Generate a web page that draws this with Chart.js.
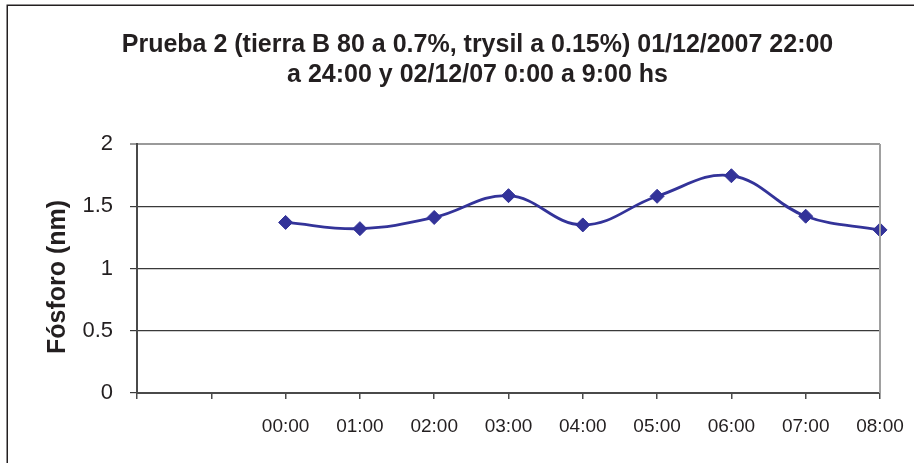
<!DOCTYPE html>
<html>
<head>
<meta charset="utf-8">
<script src="https://cdn.jsdelivr.net/npm/chart.js@4/dist/chart.umd.min.js"></script>
<style>
  html, body { margin: 0; padding: 0; background: #ffffff; }
  #wrap { position: relative; width: 914px; height: 463px; }
</style>
</head>
<body>
<div id="wrap"><canvas id="c" width="914" height="463"></canvas></div>
<script>
// Hourly readings; the two evening slots (22:00, 23:00) have no measurement and no label
const horas = ['', '', '00:00', '01:00', '02:00', '03:00', '04:00', '05:00', '06:00', '07:00', '08:00'];
const fosforo = [null, null, 1.37, 1.32, 1.41, 1.585, 1.35, 1.58, 1.745, 1.42, 1.31];
const yTicks = [0, 0.5, 1, 1.5, 2];

const tituloLineas = [
  'Prueba 2 (tierra B 80 a 0.7%, trysil a 0.15%) 01/12/2007 22:00',
  'a 24:00 y 02/12/07 0:00 a 9:00 hs'
];
const tituloEje = 'Fósforo (nm)';

const FONT = '"Liberation Sans", Arial, sans-serif';
const INK = '#231f20';
const SERIE = '#333399';

// Frame, title, vertical axis title and right edge of the plot area
const decor = {
  id: 'decor',
  beforeDraw(chart) {
    const ctx = chart.ctx;
    ctx.save();
    ctx.fillStyle = '#ffffff';
    ctx.fillRect(0, 0, chart.width, chart.height);
    ctx.strokeStyle = INK;
    ctx.lineWidth = 1.5;
    ctx.strokeRect(7.25, 5.25, 1200, 1200);
    ctx.restore();
  },
  afterDraw(chart) {
    const ctx = chart.ctx;
    const a = chart.chartArea;
    ctx.save();
    // plot area right edge
    ctx.strokeStyle = '#a0a0a0';
    ctx.lineWidth = 2;
    ctx.beginPath();
    ctx.moveTo(a.right, a.top);
    ctx.lineTo(a.right, a.bottom);
    ctx.stroke();

    // chart title
    ctx.fillStyle = INK;
    ctx.textAlign = 'center';
    ctx.textBaseline = 'alphabetic';
    ctx.font = 'bold 25px ' + FONT;
    ctx.fillText(tituloLineas[0], 477.5, 51.5);
    ctx.fillText(tituloLineas[1], 477.5, 81.5);

    // vertical axis title
    ctx.translate(58, 277);
    ctx.rotate(-Math.PI / 2);
    ctx.textBaseline = 'middle';
    ctx.font = 'bold 25px ' + FONT;
    ctx.fillText(tituloEje, 0, 0);
    ctx.restore();
  }
};

new Chart(document.getElementById('c'), {
  type: 'line',
  data: {
    labels: horas,
    datasets: [{
      data: fosforo,
      borderColor: SERIE,
      backgroundColor: SERIE,
      borderWidth: 2.8,
      tension: 0.4,
      pointStyle: 'rectRot',
      pointRadius: 7,
      pointBorderWidth: 1,
      pointBorderColor: SERIE,
      pointBackgroundColor: SERIE,
      fill: false
    }]
  },
  options: {
    responsive: false,
    animation: false,
    devicePixelRatio: 1,
    layout: { padding: { top: 144, right: 34, bottom: 0, left: 0 } },
    plugins: {
      legend: { display: false },
      title: { display: false },
      tooltip: { enabled: false }
    },
    scales: {
      x: {
        type: 'category',
        offset: false,
        afterFit(scale) {
          scale.height = 70;
          scale.paddingLeft = 0;
          scale.paddingRight = 0;
        },
        border: { display: true, color: '#4a4a4a', width: 2 },
        grid: {
          display: true,
          drawOnChartArea: false,
          drawTicks: true,
          tickLength: 6,
          color: '#4a4a4a',
          lineWidth: 1.5
        },
        ticks: {
          autoSkip: false,
          maxRotation: 0,
          padding: 16,
          color: INK,
          font: { family: FONT, size: 19 }
        }
      },
      y: {
        min: 0,
        max: 2,
        afterFit(scale) {
          scale.width = 137;
          scale.paddingTop = 0;
          scale.paddingBottom = 0;
        },
        afterBuildTicks(scale) { scale.ticks = yTicks.map(v => ({ value: v })); },
        border: { display: true, color: '#4a4a4a', width: 2 },
        grid: {
          drawTicks: true,
          tickLength: 7,
          color: (c) => (c.tick && c.tick.value === 2 ? '#9a9a9a' : '#3a3a3a'),
          lineWidth: (c) => (c.tick && c.tick.value === 2 ? 2 : 1.2)
        },
        ticks: {
          padding: 17,
          color: INK,
          font: { family: FONT, size: 22 },
          callback: (v) => String(v)
        }
      }
    }
  },
  plugins: [decor]
});
</script>
</body>
</html>
